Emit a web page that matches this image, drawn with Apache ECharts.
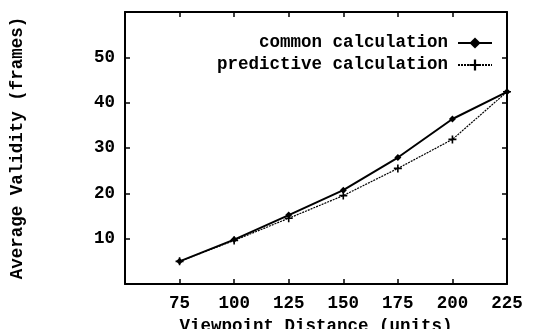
<!DOCTYPE html>
<html>
<head>
<meta charset="utf-8">
<script src="https://cdn.jsdelivr.net/npm/echarts@6/dist/echarts.min.js"></script>
<style>
  html, body { margin: 0; padding: 0; background: #fff; }
  #chart { width: 533px; height: 329px; }
</style>
</head>
<body>
<div id="chart"></div>
<script>
// viewpoint distance (units)
const distances = [75, 100, 125, 150, 175, 200, 225];
// average validity (frames)
const commonCalc = [5.0, 9.8, 15.2, 20.7, 27.9, 36.4, 42.4];
const predictiveCalc = [5.0, 9.6, 14.5, 19.5, 25.5, 31.9, 42.4];
const xLabels = ['75', '100', '125', '150', '175', '200', '225'];
const yLabels = ['10', '20', '30', '40', '50'];

const font = '"Liberation Mono", "DejaVu Sans Mono", monospace';
const fontSize = 17.5;
const plusPath = 'path://M4,0h2v4h4v2h-4v4h-2v-4h-4v-2h4z';

const chart = echarts.init(document.getElementById('chart'));

// gnuplot-like box: ticks inward on all four sides
const boxAxis = {
  axisLine: { show: true, onZero: false, lineStyle: { color: '#000', width: 2 } },
  axisTick: { show: true, inside: true, length: 5, lineStyle: { color: '#000', width: 1.5 } },
  splitLine: { show: false },
};

const labelStyle = { fontFamily: font, fontSize: fontSize, fontWeight: 'bold', color: '#000' };

chart.setOption({
  animation: false,
  backgroundColor: '#fff',
  textStyle: { fontFamily: font },
  grid: { left: 125, right: 26, top: 12, bottom: 45, outerBoundsMode: 'none', containLabel: false },
  legend: {
    orient: 'vertical',
    right: 35,
    top: 29,
    align: 'right',
    itemWidth: 34,
    itemHeight: 14,
    itemGap: 4,
    textStyle: { ...labelStyle, padding: [0, 5, 0, 0] },
    data: ['common calculation', 'predictive calculation'],
  },
  xAxis: [
    {
      ...boxAxis,
      type: 'value',
      min: 50,
      max: 225,
      interval: 25,
      name: 'Viewpoint Distance (units)',
      nameLocation: 'middle',
      nameGap: 30,
      nameTextStyle: labelStyle,
      axisLabel: {
        ...labelStyle,
        margin: 11,
        formatter: (v) => (xLabels.includes(String(v)) ? String(v) : ''),
      },
    },
    {
      ...boxAxis,
      type: 'value',
      position: 'top',
      min: 50,
      max: 225,
      interval: 25,
      axisLabel: { show: false },
    },
  ],
  yAxis: [
    {
      ...boxAxis,
      type: 'value',
      min: 0,
      max: 60,
      interval: 10,
      name: 'Average Validity (frames)',
      nameLocation: 'middle',
      nameGap: 98,
      nameRotate: 90,
      nameTextStyle: labelStyle,
      axisLabel: {
        ...labelStyle,
        margin: 10,
        formatter: (v) => (yLabels.includes(String(v)) ? String(v) : ''),
      },
    },
    {
      ...boxAxis,
      type: 'value',
      position: 'right',
      min: 0,
      max: 60,
      interval: 10,
      axisLabel: { show: false },
    },
  ],
  series: [
    {
      name: 'common calculation',
      type: 'line',
      data: distances.map((d, i) => [d, commonCalc[i]]),
      symbol: 'diamond',
      symbolSize: 7,
      itemStyle: { color: '#000' },
      lineStyle: { color: '#000', width: 2 },
      z: 3,
    },
    {
      name: 'predictive calculation',
      type: 'line',
      data: distances.map((d, i) => [d, predictiveCalc[i]]),
      symbol: plusPath,
      symbolSize: 8,
      itemStyle: { color: '#000' },
      lineStyle: { color: '#000', width: 1.2, type: [2, 1] },
      z: 2,
    },
  ],
});
</script>
</body>
</html>
